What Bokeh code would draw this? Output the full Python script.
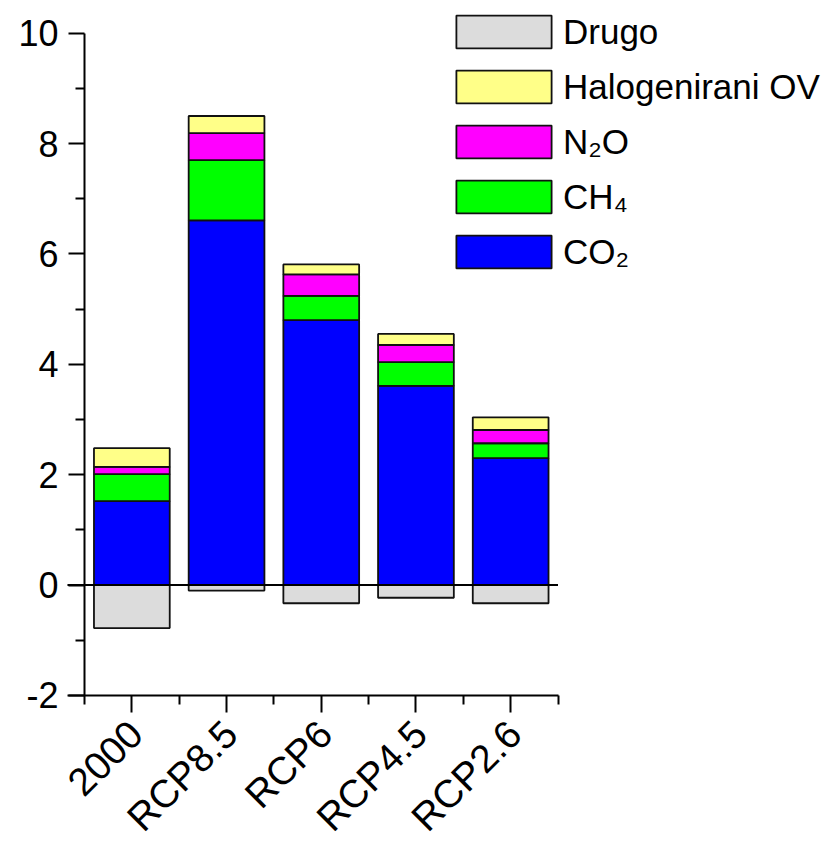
import math
from bokeh.plotting import figure
from bokeh.models import (ColumnDataSource, FixedTicker, Range1d, Legend, LegendItem, Label)
from bokeh.embed import file_html
from bokeh.resources import INLINE

# ---- data ----
categories = ["2000", "RCP8.5", "RCP6", "RCP4.5", "RCP2.6"]
co2 = [1.52, 6.61, 4.80, 3.61, 2.30]
ch4 = [0.49, 1.09, 0.44, 0.43, 0.27]
n2o = [0.13, 0.49, 0.39, 0.31, 0.24]
halo = [0.34, 0.31, 0.18, 0.20, 0.23]
drugo = [-0.78, -0.10, -0.33, -0.23, -0.33]
y_ticks = [-2, 0, 2, 4, 6, 8, 10]

series_names = ["CO2", "CH4", "N2O", "Halo"]
legend_labels = {"Drugo": "Drugo", "Halo": "Halogenirani OV", "N2O": "N\u2082O",
                 "CH4": "CH\u2084", "CO2": "CO\u2082"}
colors = {"CO2": "#0000FF", "CH4": "#00FF00", "N2O": "#FF00FF",
          "Halo": "#FFFF88", "Drugo": "#DCDCDC"}

xpos = [i + 1 for i in range(len(categories))]
zeros = [0] * len(categories)
src = ColumnDataSource(dict(x=xpos, CO2=co2, CH4=ch4, N2O=n2o, Halo=halo,
                            Drugo=drugo, zero=zeros))

FONT = "Liberation Sans"
W_PX, H_PX = 829, 842
AXIS_X, TOP, AXIS_Y = 84, 10, 695    # pixel column of the y axis, frame top, pixel row of x axis
px_per_x = 94.7
px_per_y = 55.16
x_axis_lo = xpos[0] - 0.5
x0 = x_axis_lo - AXIS_X / px_per_x
x1 = x_axis_lo + (W_PX - AXIS_X) / px_per_x
y_lo, y_hi = y_ticks[0], y_ticks[-1]
y_top = y_hi + (32.7 - TOP) / px_per_y
y_bottom = y_lo - (H_PX - AXIS_Y) / px_per_y

p = figure(width=W_PX, height=H_PX, output_backend="svg", toolbar_location=None,
           x_range=Range1d(x0, x1), y_range=Range1d(y_bottom, y_top),
           min_border_left=0, min_border_right=0, min_border_top=TOP,
           min_border_bottom=0)
p.outline_line_color = None
p.xgrid.visible = False
p.ygrid.visible = False
p.background_fill_color = "white"

W = 0.8
stack_r = p.vbar_stack(series_names, x="x", width=W, source=src,
                       fill_color=[colors[s] for s in series_names],
                       line_color="#111111", line_width=1.8)
drugo_r = p.vbar(x="x", top="zero", bottom="Drugo", width=W, source=src,
                 fill_color=colors["Drugo"], line_color="#111111", line_width=1.8)

stub = 0.18
# zero line across the category span
p.segment(x0=[x_axis_lo - stub], y0=[0], x1=[xpos[-1] + 0.5], y1=[0],
          line_color="black", line_width=2)

# x axis placed at y = -2 (ticks only; category labels drawn rotated below)
xa = p.xaxis[0]
xa.fixed_location = y_lo
xa.ticker = FixedTicker(ticks=xpos, minor_ticks=[v - 0.5 for v in xpos] + [xpos[-1] + 0.5])
xa.major_label_overrides = {v: "" for v in xpos}
xa.major_label_text_font_size = "0px"
xa.bounds = (x_axis_lo - stub, xpos[-1] + 0.5)
xa.major_tick_in = 0
xa.major_tick_out = 17
xa.minor_tick_in = 0
xa.minor_tick_out = 9
xa.axis_line_width = 2
xa.major_tick_line_width = 2
xa.minor_tick_line_width = 2
xa.axis_line_color = "black"

for xv, cat in zip(xpos, categories):
    p.add_layout(Label(x=xv, y=y_lo, text=cat, angle=math.pi / 4,
                       x_offset=4, y_offset=-32,
                       text_align="right", text_baseline="middle",
                       text_font=FONT, text_font_size="39px", text_color="black"))

# y axis placed at x = 0.5
ya = p.yaxis[0]
ya.fixed_location = x_axis_lo
ya.ticker = FixedTicker(ticks=y_ticks, minor_ticks=[v + 1 for v in y_ticks[:-1]])
ya.major_label_overrides = {v: str(v) for v in y_ticks}
ya.bounds = (y_lo, y_hi)
ya.major_label_text_font = FONT
ya.major_label_text_font_size = "36px"
ya.major_label_text_color = "black"
ya.major_label_standoff = 10
ya.major_tick_in = 0
ya.major_tick_out = 16
ya.minor_tick_in = 0
ya.minor_tick_out = 9
ya.axis_line_width = 2
ya.major_tick_line_width = 2
ya.minor_tick_line_width = 2
ya.axis_line_color = "black"

# legend
rmap = dict(zip(series_names, stack_r))
rmap["Drugo"] = drugo_r
order = ["Drugo", "Halo", "N2O", "CH4", "CO2"]
legend = Legend(items=[LegendItem(label=legend_labels[k], renderers=[rmap[k]]) for k in order],
                location=(444, 570))
legend.glyph_width = 119
legend.glyph_height = 41
legend.label_text_font = FONT
legend.label_text_font_size = "35px"
legend.label_text_color = "black"
legend.label_standoff = 0
legend.spacing = 14
legend.padding = 0
legend.margin = 0
legend.border_line_alpha = 0
legend.background_fill_alpha = 0
p.add_layout(legend)

open("out.html", "w").write(file_html(p, INLINE))
